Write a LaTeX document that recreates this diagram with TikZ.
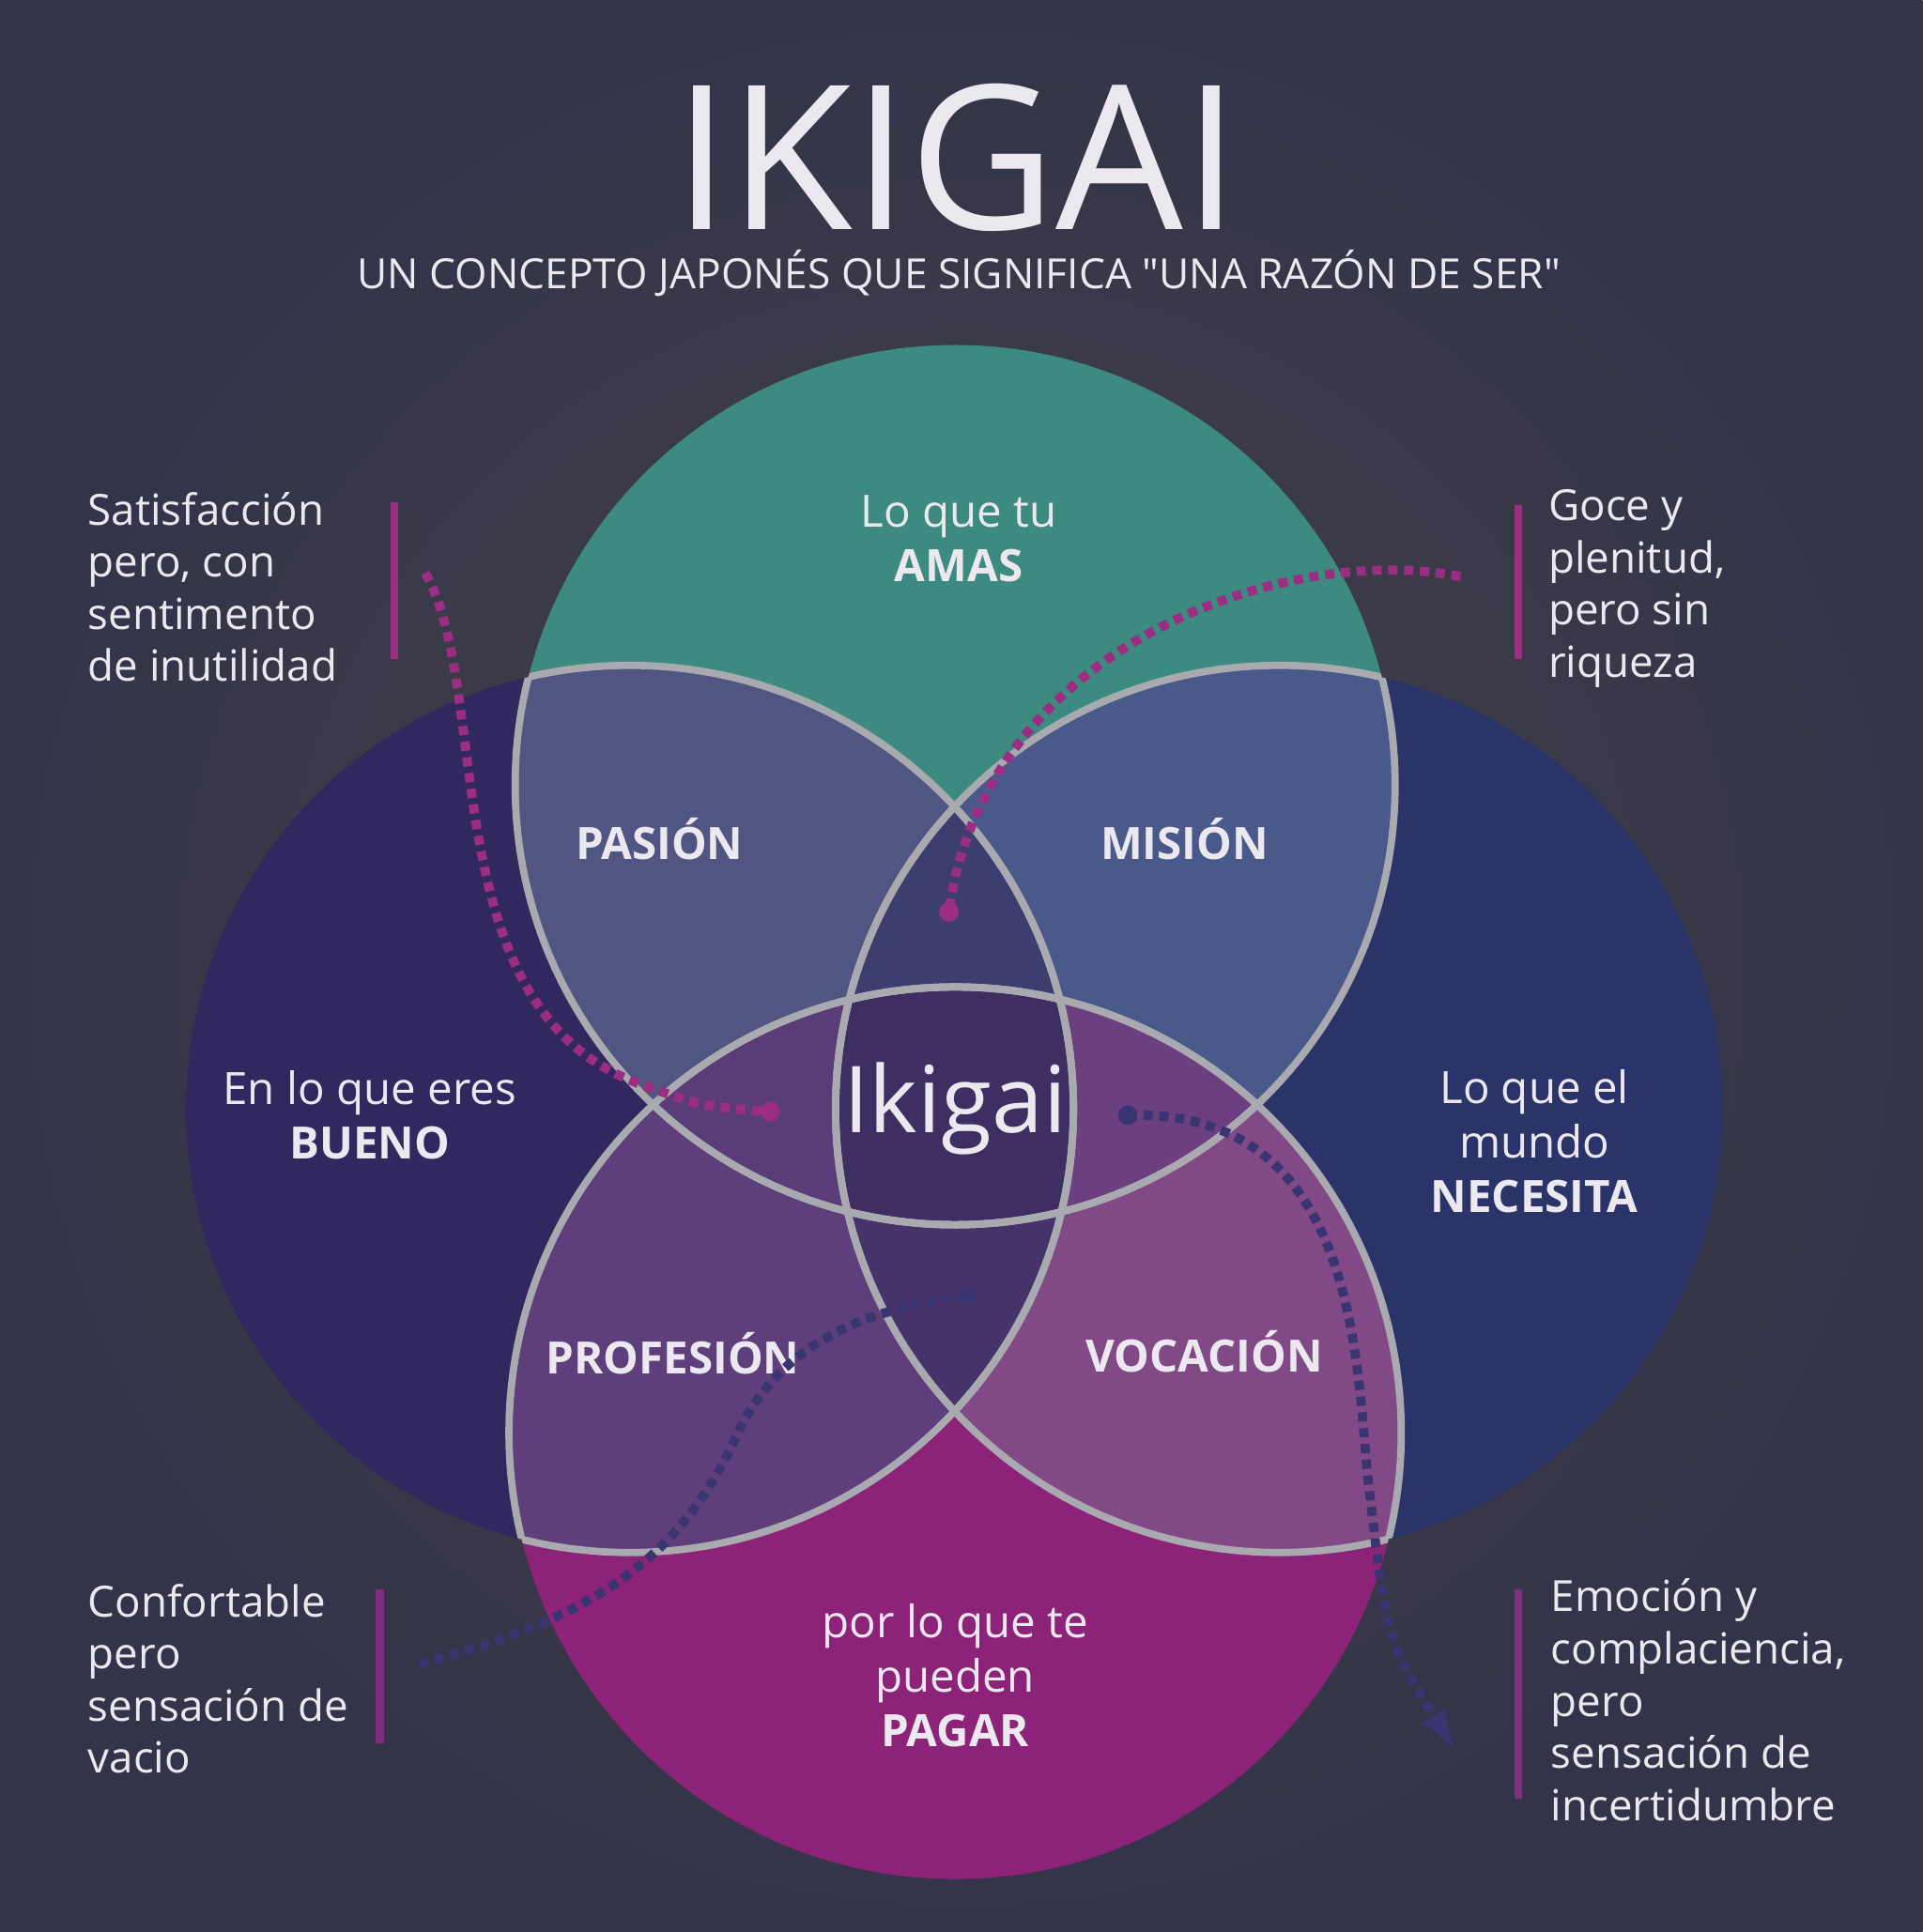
\documentclass[tikz,border=0pt]{standalone}
\usepackage{fontspec}
\setmainfont{Open Sans}
\newfontfamily\subfont{Open Sans}
\usetikzlibrary{positioning, arrows.meta}
\definecolor{txt}{HTML}{ECE8F0}
\definecolor{amasc}{HTML}{3D8A80}
\definecolor{buenoc}{HTML}{30285F}
\definecolor{mundoc}{HTML}{2B3469}
\definecolor{pagarc}{HTML}{8C2378}
\definecolor{pasionc}{HTML}{505681}
\definecolor{misionc}{HTML}{48598A}
\definecolor{profc}{HTML}{5F3F7B}
\definecolor{vocc}{HTML}{824987}
\definecolor{lensT}{HTML}{3C3E70}
\definecolor{lensB}{HTML}{45336A}
\definecolor{lensL}{HTML}{5A3D78}
\definecolor{lensR}{HTML}{6B3F80}
\definecolor{ikic}{HTML}{3E2E62}
\definecolor{edge}{HTML}{A9A9B0}
\definecolor{pinkdot}{HTML}{9B2D82}
\definecolor{navydot}{HTML}{3A3470}
\tikzset{
x=0.013128cm, y=-0.013128cm,
outline/.style={draw=edge, line width=2.2pt}, % grey borders
label/.style={text=txt, align=center, font=\fontsize{13.5}{16.5}\selectfont}, % circle texts
side/.style={text=txt, align=left, anchor=north west, font=\fontsize{13}{15.8}\selectfont},
zone/.style={text=txt, font=\bfseries\fontsize{13.5}{17}\selectfont},
bar/.style={line width=2.5pt},
path/.style={dotted, line width=2.8pt},
}
\newcommand\circT{(775,637) circle (357)}
\newcommand\circL{(511,900) circle (360)}
\newcommand\circR{(1038,900) circle (360)}
\newcommand\circB{(775,1163) circle (362)}
\begin{document}
\begin{tikzpicture}
  \useasboundingbox (0,0) rectangle (1560,1568);
  \shade[inner color=gray!55!black, outer color=black!85!blue!60!gray] (0,0) rectangle (1560,1568);
  % the four circles
  \fill[buenoc] \circL;
  \fill[mundoc] \circR;
  \fill[pagarc] \circB;
  \fill[amasc] \circT;
  % overlaps, two at a time
  \begin{scope}\clip \circT; \fill[pasionc] \circL; \fill[misionc] \circR; \end{scope}
  \begin{scope}\clip \circB; \fill[profc] \circL; \fill[vocc] \circR; \end{scope}
  % three at a time
  \begin{scope}\clip \circL; \clip \circR; \fill[lensT] \circT; \fill[lensB] \circB; \end{scope}
  \begin{scope}\clip \circT; \clip \circB; \fill[lensL] \circL; \fill[lensR] \circR; \end{scope}
  % all four
  \begin{scope}\clip \circT; \clip \circB; \clip \circL; \fill[ikic] \circR; \end{scope}
  % borders, only where circles overlap
  \foreach \a in {\circT,\circL,\circR,\circB}{
    \foreach \b in {\circT,\circL,\circR,\circB}{
      \ifx\a\b\else
      \begin{scope}
        \clip \b;
        \draw[outline] \a;
      \end{scope}
      \fi
    }
  }
  % title
  \node[text=txt, font=\fontsize{61}{66}\selectfont] (title) at (776,128) {IKIGAI};
  \node[text=txt, font=\subfont\fontsize{12.6}{15}\selectfont] (sub) at (778,222) {UN CONCEPTO JAPONÉS QUE SIGNIFICA "UNA RAZÓN DE SER"};
  % circle labels
  \node[label] (amas) at (778,437) {Lo que tu\\\textbf{AMAS}};
  \node[label] (bueno) at (300,905) {En lo que eres\\\textbf{BUENO}};
  \node[label] (mundo) at (1245,926) {Lo que el\\mundo\\\textbf{NECESITA}};
  \node[label] (pagar) at (775,1360) {por lo que te\\pueden\\\textbf{PAGAR}};
  \node[zone] (pasion) at (535,681) {PASIÓN};
  \node[zone] (mision) at (961,681) {MISIÓN};
  \node[zone] (profesion) at (546,1098) {PROFESIÓN};
  \node[zone] (vocacion) at (977,1097) {VOCACIÓN};
  \node[text=txt, font=\fontsize{28}{32}\selectfont] (ikigai) at (775,900) {Ikigai};
  % side notes
  \node[side] (satis) at (62,390) {Satisfacción\\pero, con\\sentimento\\de inutilidad};
  \node[side] (goce) at (1247,388) {Goce y\\plenitud,\\pero sin\\riqueza};
  \node[side] (confor) at (62,1276) {Confortable\\pero\\sensación de\\vacio};
  \node[side] (emocion) at (1249,1272) {Emoción y\\complaciencia,\\pero\\sensación de\\incertidumbre};
  \draw[bar, pinkdot] (320,408) -- (320,535);
  \draw[bar, pinkdot] (1232,410) -- (1232,535);
  \draw[bar, pinkdot!70!navydot] (308,1290) -- (308,1415);
  \draw[bar, pinkdot!70!navydot] (1232,1290) -- (1232,1460);
  % dotted pointers
  \coordinate (dP) at (625,902);
  \coordinate (dM) at (770,740);
  \coordinate (dPr) at (785,1052);
  \coordinate (dV) at (915,905);
  \coordinate (eS) at (345,465);
  \coordinate (eG) at (1185,468);
  \coordinate (eC) at (340,1350);
  \coordinate (eE) at (1180,1420);
  \draw[path, pinkdot] (eS) .. controls (400,560) and (350,820) .. (520,880) .. controls (570,898) .. (dP);
  \draw[path, pinkdot] (eG) .. controls (1050,440) and (800,520) .. (dM);
  \draw[path, navydot] (eC) .. controls (500,1310) and (560,1250) .. (600,1160) .. controls (640,1080) and (720,1060) .. (dPr);
  \draw[path, navydot, -{Latex[length=12pt]}] (dV) .. controls (1100,900) and (1100,1100) .. (1110,1200) .. controls (1125,1330) .. (eE);
  \fill[pinkdot] (dP) circle (8);
  \fill[pinkdot] (dM) circle (8);
  \fill[navydot] (dPr) circle (8);
  \fill[navydot] (dV) circle (8);
\end{tikzpicture}
\end{document}
